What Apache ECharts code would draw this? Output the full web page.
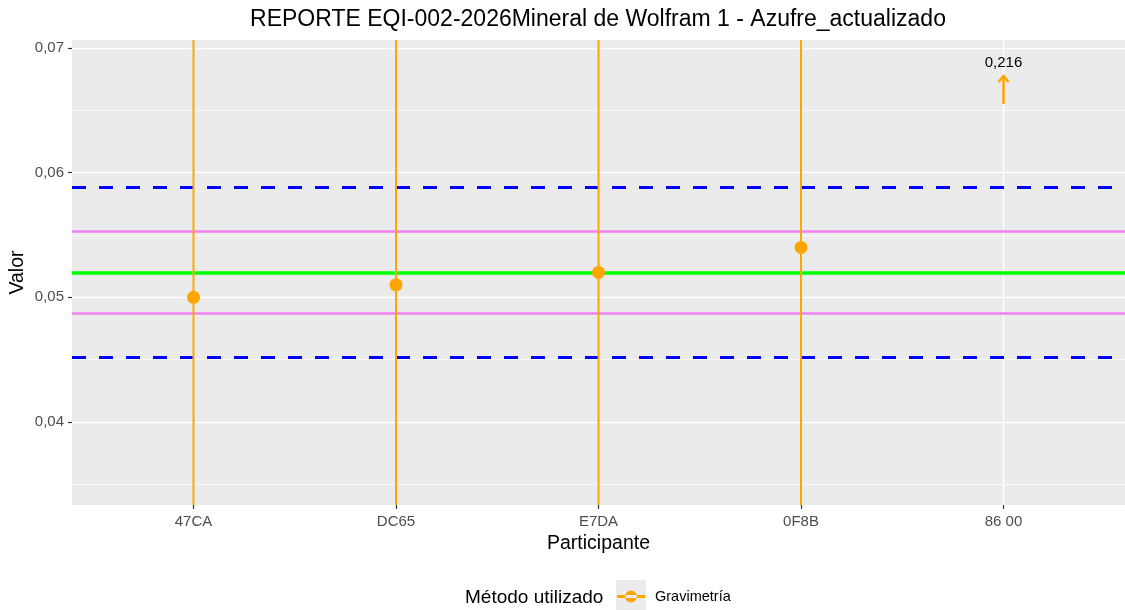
<!DOCTYPE html>
<html>
<head>
<meta charset="utf-8">
<script src="https://cdn.jsdelivr.net/npm/echarts@6/dist/echarts.min.js"></script>
<style>
  html, body { margin: 0; padding: 0; background: #fff; }
  #chart { width: 1125px; height: 610px; }
</style>
</head>
<body>
<div id="chart"></div>
<script>
// participantes y resultados
const participantes = ['47CA', 'DC65', 'E7DA', '0F8B', '86 00']
const valores = [0.050, 0.051, 0.052, 0.054, 0.216]
// incertidumbres (salen del panel)
const limInf = [0.0, 0.0, 0.0, 0.0]
const limSup = [0.1, 0.1, 0.1, 0.1]

// lineas de referencia
const valorAsignado = 0.052
const limitesVioleta = [0.0553, 0.0487]
const limitesAzules = [0.0588, 0.0452]

// escala y
const yMin = 0.03334
const yMax = 0.07064
const ticksY = [0.04, 0.05, 0.06, 0.07]
const ticksYMenores = [0.035, 0.045, 0.055, 0.065]

const naranja = '#FFA500'
const fuente = 'Liberation Sans'
const coma = v => v.toFixed(2).replace('.', ',')
const coma3 = v => v.toFixed(3).replace('.', ',')

// dentro del rango -> puntos; fuera -> flecha
const puntos = []
const fuera = []
valores.forEach((v, i) => {
  if (v > yMax) fuera.push([i + 1, v])
  else puntos.push([i + 1, v])
})

const errores = limInf.map((lo, i) => [i + 1, lo, limSup[i]])

const myChart = echarts.init(document.getElementById('chart'))

const option = {
  animation: false,
  backgroundColor: '#ffffff',
  title: [
    {
      text: 'REPORTE EQI-002-2026Mineral de Wolfram 1 - Azufre_actualizado',
      left: 598, top: 8, padding: 0, textAlign: 'center',
      textStyle: { fontFamily: fuente, fontSize: 23, fontWeight: 'normal', color: '#000' }
    },
    {
      text: 'Método utilizado',
      left: 465, top: 588, padding: 0,
      textStyle: { fontFamily: fuente, fontSize: 19, fontWeight: 'normal', color: '#000' }
    }
  ],
  graphic: [
    { type: 'rect', left: 616, top: 580, shape: { width: 30, height: 30 }, style: { fill: '#ebebeb' }, z: 0 }
  ],
  legend: {
    data: ['Gravimetría'],
    left: 617, top: 589, padding: 0,
    itemWidth: 28, itemHeight: 14, itemGap: 5,
    icon: 'path://M0,5.5h28v3h-28z M8,7a6,6 0 1,0 12,0a6,6 0 1,0 -12,0z',
    itemStyle: { color: naranja },
    textStyle: { fontFamily: fuente, fontSize: 14.5, color: '#000', padding: [0, 0, 0, 5] }
  },
  grid: {
    left: 72, right: 0, top: 40, bottom: 105,
    outerBoundsMode: 'none', containLabel: false,
    show: true, backgroundColor: '#ebebeb', borderWidth: 0
  },
  xAxis: {
    type: 'value', min: 0.4, max: 5.6,
    name: 'Participante', nameLocation: 'middle', nameGap: 26,
    nameTextStyle: { fontFamily: fuente, fontSize: 19.5, color: '#000' },
    axisLine: { show: false },
    axisTick: { show: true, length: 4, customValues: [1, 2, 3, 4, 5], lineStyle: { color: '#333', width: 1.2 } },
    axisLabel: {
      customValues: [1, 2, 3, 4, 5], margin: 9,
      fontFamily: fuente, fontSize: 15, color: '#4d4d4d',
      formatter: v => participantes[Math.round(v) - 1] || ''
    },
    splitLine: { show: false }
  },
  yAxis: {
    type: 'value', min: yMin, max: yMax,
    name: 'Valor', nameLocation: 'middle', nameGap: 44, nameRotate: 90, nameMoveOverlap: false,
    nameTextStyle: { fontFamily: fuente, fontSize: 19.5, color: '#000' },
    axisLine: { show: false },
    axisTick: { show: true, length: 4, customValues: ticksY, lineStyle: { color: '#333', width: 1.2 } },
    axisLabel: {
      customValues: ticksY, margin: 8,
      fontFamily: fuente, fontSize: 15, color: '#4d4d4d',
      formatter: v => coma(v)
    },
    splitLine: { show: false }
  },
  series: [
    // rejilla
    {
      type: 'line', data: [], silent: true, z: 1,
      markLine: {
        silent: true, symbol: 'none', label: { show: false }, animation: false,
        precision: 5, z: 1,
        data: [
          ...ticksYMenores.map(v => ({ yAxis: v, lineStyle: { color: '#fff', width: 0.7, type: 'solid' } })),
          ...ticksY.map(v => ({ yAxis: v, lineStyle: { color: '#fff', width: 1.4, type: 'solid' } })),
          ...participantes.map((p, i) => ({ xAxis: i + 1, lineStyle: { color: '#fff', width: 1.4, type: 'solid' } }))
        ]
      }
    },
    // lineas de referencia
    {
      type: 'line', data: [], silent: true, z: 2,
      markLine: {
        silent: true, symbol: 'none', label: { show: false }, animation: false,
        precision: 5, z: 2,
        data: [
          ...limitesAzules.map(v => ({ yAxis: v, lineStyle: { color: '#0000ff', width: 3, type: [14, 13] } })),
          ...limitesVioleta.map(v => ({ yAxis: v, lineStyle: { color: '#ee82ee', width: 2.5, type: 'solid' } })),
          { yAxis: valorAsignado, lineStyle: { color: '#00ff00', width: 3.5, type: 'solid' } }
        ]
      }
    },
    // barras de incertidumbre
    {
      type: 'custom', name: 'Gravimetría', z: 4, silent: true,
      itemStyle: { color: naranja },
      data: errores,
      renderItem: (params, api) => {
        const cs = params.coordSys
        const x = api.coord([api.value(0), 0])[0]
        let y1 = api.coord([0, api.value(2)])[1]
        let y2 = api.coord([0, api.value(1)])[1]
        y1 = Math.max(y1, cs.y)
        y2 = Math.min(y2, cs.y + cs.height)
        return {
          type: 'line',
          shape: { x1: x, y1: y1, x2: x, y2: y2 },
          style: { stroke: naranja, lineWidth: 2 }
        }
      }
    },
    // resultados
    {
      type: 'scatter', name: 'Gravimetría', z: 5,
      data: puntos,
      symbol: 'circle', symbolSize: 13,
      itemStyle: { color: naranja, opacity: 1 }
    },
    // valores fuera de escala
    {
      type: 'custom', name: 'Gravimetría', z: 5, silent: true,
      itemStyle: { color: naranja },
      data: fuera,
      renderItem: (params, api) => {
        const cs = params.coordSys
        const x = api.coord([api.value(0), 0])[0]
        const top = cs.y
        return {
          type: 'group',
          children: [
            { type: 'line', shape: { x1: x, y1: top + 36, x2: x, y2: top + 64 }, style: { stroke: naranja, lineWidth: 2.5 } },
            { type: 'polyline', shape: { points: [[x - 5, top + 42], [x, top + 36], [x + 5, top + 42]] }, style: { stroke: naranja, lineWidth: 2.5, fill: null } },
            {
              type: 'text', x: x, y: top + 23,
              style: {
                text: coma3(api.value(1)), fill: '#000', align: 'center', verticalAlign: 'middle',
                fontFamily: fuente, fontSize: 15
              }
            }
          ]
        }
      }
    }
  ]
}

myChart.setOption(option)
</script>
</body>
</html>
